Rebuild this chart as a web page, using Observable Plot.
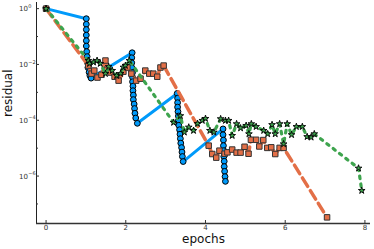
<!DOCTYPE html>
<html><head><meta charset="utf-8">
<script src="https://cdn.jsdelivr.net/npm/d3@7"></script>
<script src="https://cdn.jsdelivr.net/npm/@observablehq/plot@0.6"></script>
<style>html,body{margin:0;padding:0;background:#fff;}</style>
</head><body><div id="chart"></div>
<script>
// Series 1 (blue, solid, circles)
const blueEpoch = [0,
  1.01,1.01,1.01,1.01,1.01,1.01,1.02,1.03,1.04,1.05,1.08,1.10,1.13,
  2.16,2.15,2.15,2.15,2.17,2.17,2.17,2.18,2.18,2.19,2.19,2.21,2.22,2.23,2.25,2.29,
  3.29,3.30,3.30,3.30,3.31,3.32,3.32,3.33,3.35,3.36,3.37,3.38,3.40,3.41,3.42,3.44,
  4.44,4.44,4.45,4.45,4.46,4.46,4.47,4.47,4.48,4.49,4.50];
const blueLog10Residual = [0,
  -0.36,-0.56,-0.75,-0.95,-1.15,-1.34,-1.54,-1.72,-1.94,-2.11,-2.28,-2.40,-2.49,
  -1.58,-1.76,-1.94,-2.11,-2.29,-2.46,-2.62,-2.78,-2.94,-3.10,-3.26,-3.42,-3.58,-3.75,-3.92,-4.11,
  -3.04,-3.21,-3.37,-3.53,-3.69,-3.85,-4.01,-4.18,-4.34,-4.50,-4.66,-4.82,-4.98,-5.14,-5.30,-5.48,
  -4.31,-4.52,-4.71,-4.91,-5.09,-5.30,-5.47,-5.66,-5.83,-6.02,-6.19];

// Series 2 (orange, dashed, squares)
const orangeEpoch = [0,
  1.06,1.14,1.21,1.29,1.39,1.49,1.52,1.62,1.72,1.82,1.94,2.04,2.14,2.26,2.37,2.49,2.59,2.69,2.79,2.87,2.95,
  4.08,4.17,4.27,4.35,4.48,4.55,4.67,4.78,4.88,4.98,5.08,5.14,5.27,5.35,5.45,5.55,5.65,5.75,5.86,5.96,
  7.05];
const orangeLog10Residual = [0,
  -2.04,-2.33,-2.22,-2.47,-2.37,-1.86,-2.19,-2.29,-2.44,-2.58,-2.26,-2.11,-2.33,-2.58,-2.51,-2.22,-2.33,-2.33,-2.44,-2.11,-2.04,
  -4.91,-5.21,-5.34,-5.09,-5.20,-5.15,-5.05,-5.16,-5.16,-4.95,-5.20,-4.70,-4.70,-4.94,-4.71,-4.99,-4.97,-5.21,-4.99,-4.99,
  -7.48];

// Series 3 (green, dotted, stars)
const greenEpoch = [0,
  1.06,1.09,1.19,1.28,1.36,1.49,1.57,1.66,1.77,1.87,1.94,1.99,2.09,
  3.20,3.37,3.47,3.58,3.70,3.80,3.92,4.00,4.11,4.21,4.38,4.50,4.58,4.67,4.78,4.88,5.02,5.09,5.15,5.27,5.46,5.56,5.67,5.75,5.86,5.96,6.05,6.16,6.28,6.43,6.55,6.65,6.73,
  7.84,7.92];
const greenLog10Residual = [0,
  -1.86,-1.97,-1.92,-1.86,-1.97,-2.33,-2.08,-2.22,-2.40,-2.33,-2.10,-2.04,-1.86,
  -4.08,-3.84,-4.43,-4.25,-4.37,-4.12,-4.01,-3.94,-4.37,-4.43,-3.95,-4.01,-4.01,-4.55,-4.13,-4.28,-4.19,-4.49,-4.13,-4.23,-4.37,-4.49,-4.16,-4.49,-4.13,-4.85,-4.13,-4.52,-4.23,-4.23,-4.59,-4.61,-4.49,
  -5.72,-6.52];

const xTicks = [0, 2, 4, 6, 8];
const yTicks = [1e0, 1e-2, 1e-4, 1e-6];
const yTickExponents = ["0", "\u22122", "\u22124", "\u22126"];
const yMinorTicks = [1e-1, 1e-3, 1e-5, 1e-7];
const xLabel = "epochs";
const yLabel = "residual";

const toRows = (xs, es) => xs.map((x, i) => ({x, y: Math.pow(10, es[i])}));
const blue = toRows(blueEpoch, blueLog10Residual);
const orange = toRows(orangeEpoch, orangeLog10Residual);
const green = toRows(greenEpoch, greenLog10Residual);
const yTickRows = yTicks.map((v, i) => ({v, e: yTickExponents[i]}));

const xDomain = [-0.24, 8.14];
const yDomain = [Math.pow(10, -7.70), Math.pow(10, 0.22)];

const chart = Plot.plot({
  width: 374, height: 249,
  marginLeft: 36, marginRight: 4, marginTop: 2, marginBottom: 26,
  style: {fontFamily: "'DejaVu Sans', sans-serif", background: "#fff", overflow: "visible"},
  x: {domain: xDomain, label: null},
  y: {type: "log", domain: yDomain, label: null},
  marks: [
    Plot.line(blue, {x: "x", y: "y", stroke: "#009AFA", strokeWidth: 3}),
    Plot.dot(blue, {x: "x", y: "y", r: 2.9, fill: "#009AFA", stroke: "#000", strokeWidth: 1}),
    Plot.line(orange, {x: "x", y: "y", stroke: "#E36F47", strokeWidth: 3.5, strokeDasharray: "10,5"}),
    Plot.dot(orange, {x: "x", y: "y", symbol: "square", r: 3.1, fill: "#E36F47", stroke: "#333", strokeWidth: 1}),
    Plot.line(green, {x: "x", y: "y", stroke: "#3EA44E", strokeWidth: 3.2, strokeDasharray: "2.6,5.4"}),
    Plot.dot(green, {x: "x", y: "y", symbol: "star", r: 2.1, fill: "#3EA44E", stroke: "#000", strokeWidth: 0.9}),
    Plot.ruleX([xDomain[0]], {stroke: "#222", strokeWidth: 1}),
    Plot.ruleY([yDomain[0]], {stroke: "#333", strokeWidth: 1.5}),
    Plot.axisX({ticks: xTicks, tickSize: -3, tickPadding: 5, fontSize: 7, color: "#333", label: null}),
    Plot.axisY({ticks: yTicks, tickSize: -3, color: "#333", tickFormat: () => "", label: null}),
    Plot.axisY({ticks: yMinorTicks, tickSize: -2, color: "#333", tickFormat: () => "", label: null}),
    Plot.text(yTickRows, {y: "v", frameAnchor: "left", dx: -8.5, dy: 0.5, text: () => "10", textAnchor: "end", fontSize: 7, fill: "#333"}),
    Plot.text(yTickRows, {y: "v", frameAnchor: "left", dx: -8.3, dy: -2.5, text: "e", textAnchor: "start", fontSize: 5, fill: "#333"}),
    Plot.text([xLabel], {frameAnchor: "bottom", dy: 19, fontSize: 12, fill: "#111", text: d => d}),
    Plot.text([yLabel], {frameAnchor: "left", dx: -28, dy: 4, rotate: -90, fontSize: 12, fill: "#111", text: d => d})
  ]
});
document.getElementById("chart").appendChild(chart);
</script>
</body></html>
